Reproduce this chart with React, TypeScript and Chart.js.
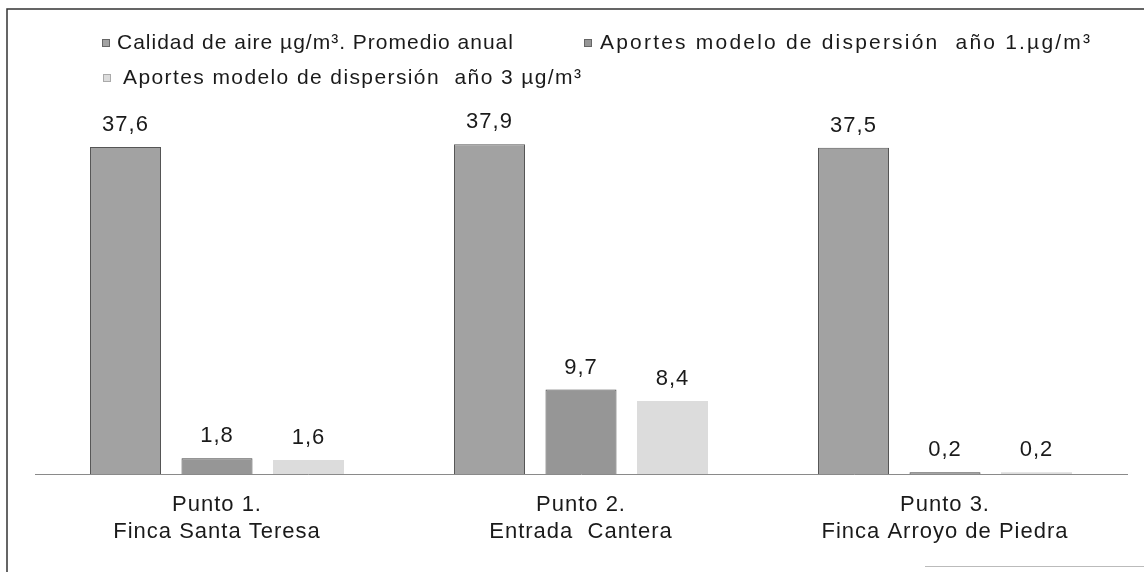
import React, { useEffect, useRef } from 'react';
import { Chart, registerables } from 'chart.js';

Chart.register(...registerables);

const categories: string[][] = [
  ['Punto 1.', 'Finca Santa Teresa'],
  ['Punto 2.', 'Entrada  Cantera'],
  ['Punto 3.', 'Finca Arroyo de Piedra'],
];
const seriesNames = [
  'Calidad de aire µg/m³. Promedio anual',
  'Aportes modelo de dispersión  año 1.µg/m³',
  'Aportes modelo de dispersión  año 3 µg/m³',
];
const calidadAire = [37.6, 37.9, 37.5];
const aportesAnio1 = [1.8, 9.7, 0.2];
const aportesAnio3 = [1.6, 8.4, 0.2];

const FONT = '"Liberation Sans", Arial, sans-serif';
const fills = ['#a2a2a2', '#969696', '#dcdcdc'];
const borders = ['#555555', '#444444', '#d0d0d0'];
const borderWidths = [1, 1, 0];

const fmt = (v: number) => v.toFixed(1).replace('.', ',');

const framePlugin = {
  id: 'frame',
  beforeDraw(chart: any) {
    const ctx = chart.ctx;
    ctx.save();
    ctx.fillStyle = '#ffffff';
    ctx.fillRect(0, 0, chart.width, chart.height);
    ctx.strokeStyle = '#333333';
    ctx.lineWidth = 1.5;
    ctx.beginPath();
    ctx.moveTo(7, chart.height);
    ctx.lineTo(7, 9);
    ctx.lineTo(chart.width, 9);
    ctx.stroke();
    ctx.strokeStyle = '#bbbbbb';
    ctx.lineWidth = 1;
    ctx.beginPath();
    ctx.moveTo(925, 566.5);
    ctx.lineTo(chart.width, 566.5);
    ctx.stroke();
    ctx.restore();
    (ctx as any).letterSpacing = '1px';
  },
};

const legendPos = [
  { x: 102, y: 43, tx: 117, spacing: '1px' },
  { x: 584, y: 43, tx: 600, spacing: '2.2px' },
  { x: 103, y: 78, tx: 123, spacing: '1.4px' },
];

const legendPlugin = {
  id: 'customLegend',
  afterDraw(chart: any) {
    const ctx = chart.ctx;
    ctx.save();
    ctx.font = `21px ${FONT}`;
    ctx.textBaseline = 'middle';
    ctx.textAlign = 'left';
    chart.data.datasets.forEach((ds: any, i: number) => {
      const p = legendPos[i];
      (ctx as any).letterSpacing = p.spacing;
      ctx.fillStyle = ds.backgroundColor;
      ctx.fillRect(p.x, p.y - 4, 8, 8);
      ctx.strokeStyle = i === 2 ? '#aaaaaa' : '#666666';
      ctx.lineWidth = 1;
      ctx.strokeRect(p.x + 0.5, p.y - 3.5, 7, 7);
      ctx.fillStyle = '#1a1a1a';
      ctx.fillText(ds.label, p.tx, p.y);
    });
    ctx.restore();
  },
};

const valueLabelPlugin = {
  id: 'valueLabels',
  afterDatasetsDraw(chart: any) {
    const ctx = chart.ctx;
    ctx.save();
    (ctx as any).letterSpacing = '1px';
    ctx.font = `22px ${FONT}`;
    ctx.fillStyle = '#1a1a1a';
    ctx.textAlign = 'center';
    ctx.textBaseline = 'middle';
    chart.data.datasets.forEach((ds: any, di: number) => {
      const meta = chart.getDatasetMeta(di);
      meta.data.forEach((el: any, i: number) => {
        ctx.fillText(fmt(ds.data[i]), el.x, el.y - 22);
      });
    });
    ctx.restore();
  },
};

export default function App() {
  const ref = useRef<HTMLCanvasElement>(null);
  useEffect(() => {
    document.body.style.margin = '0';
    const seriesValues = [calidadAire, aportesAnio1, aportesAnio3];
    const chart = new Chart(ref.current as HTMLCanvasElement, {
      type: 'bar',
      data: {
        labels: categories,
        datasets: seriesValues.map((vals, i) => ({
          label: seriesNames[i],
          data: vals,
          backgroundColor: fills[i],
          borderColor: borders[i],
          borderWidth: borderWidths[i],
          categoryPercentage: 0.754,
          barPercentage: 0.776,
        })),
      },
      options: {
        animation: false,
        responsive: true,
        maintainAspectRatio: false,
        layout: { padding: { left: 35, right: 17, top: 126, bottom: 9 } },
        plugins: {
          legend: { display: false },
          tooltip: { enabled: false },
        },
        scales: {
          x: {
            type: 'category',
            offset: true,
            grid: { display: false, drawTicks: false },
            border: { display: true, color: '#8a8a8a', width: 1, dash: [2, 1] },
            ticks: {
              color: '#1a1a1a',
              font: { family: FONT, size: 22, lineHeight: 1.25 },
              padding: 17,
              maxRotation: 0,
              autoSkip: false,
            },
          },
          y: { display: false, min: 0, max: 40 },
        },
      },
      plugins: [framePlugin, valueLabelPlugin, legendPlugin],
    });
    return () => chart.destroy();
  }, []);
  return (
    <div style={{ position: 'relative', width: 1144, height: 572 }}>
      <canvas ref={ref} />
    </div>
  );
}
